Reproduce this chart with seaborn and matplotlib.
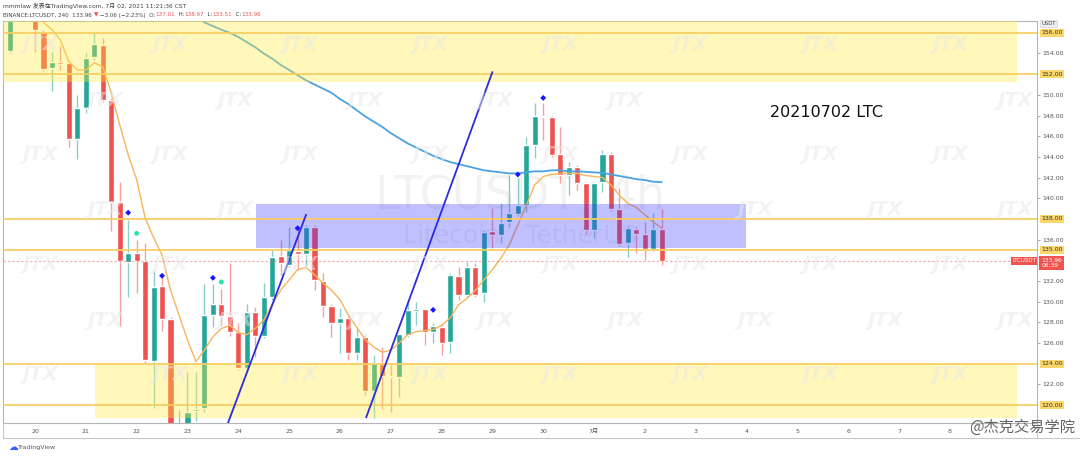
import numpy as np
import pandas as pd
import seaborn as sns
import matplotlib.pyplot as plt
from matplotlib.patches import Rectangle

# LTCUSDT 4h candles, bar 0 = Jun 20 00:00
bar = list(range(-4, 75))
opens = [156.3, 154.2, 158.5, 159.2, 157.9, 156.1, 152.6, 153.2, 153.1, 145.7,
         148.7, 153.7, 154.8, 149.5, 139.6, 133.8, 134.7, 133.9, 124.3, 131.5,
         128.3, 116.0, 117.5, 119.4, 119.7, 128.7, 129.8, 128.6, 127.1, 123.6,
         129.0, 126.7, 130.4, 134.4, 133.5, 134.9, 134.6, 137.2, 132.0, 129.6,
         127.9, 128.4, 125.0, 126.6, 121.4, 124.0, 122.8, 122.7, 126.8, 129.1,
         129.3, 127.1, 127.5, 126.1, 132.5, 130.6, 133.3, 130.8, 136.8, 136.4,
         137.7, 138.5, 139.3, 145.1, 148.0, 147.9, 144.3, 142.2, 143.0, 141.5,
         136.9, 141.6, 144.3, 139.0, 135.7, 137.0, 136.5, 135.1, 137.01]
highs = [156.8, 159.5, 160.0, 159.6, 158.2, 156.3, 154.1, 154.7, 153.3, 150.0,
         154.0, 156.1, 155.5, 149.7, 141.6, 137.9, 136.0, 135.7, 133.0, 132.4,
         128.5, 119.5, 123.2, 123.2, 131.7, 131.7, 131.2, 133.7, 127.9, 129.8,
         129.5, 131.8, 135.0, 136.0, 137.2, 137.3, 137.4, 137.4, 132.8, 129.8,
         129.4, 128.6, 127.5, 126.8, 124.8, 125.6, 123.9, 127.0, 130.2, 130.0,
         129.4, 127.9, 127.7, 132.8, 133.3, 133.8, 133.7, 136.9, 139.1, 139.5,
         142.2, 142.0, 145.9, 149.2, 149.2, 148.0, 146.9, 143.5, 143.2, 141.6,
         141.6, 144.7, 144.5, 141.0, 137.3, 137.2, 137.7, 138.6, 138.97]
lows = [154.1, 154.0, 157.5, 157.6, 154.1, 152.3, 150.4, 152.4, 145.0, 143.8,
        148.2, 153.4, 149.3, 136.8, 127.6, 130.4, 130.8, 124.1, 119.7, 127.2,
        112.0, 113.0, 116.0, 118.5, 119.3, 127.5, 127.6, 126.7, 123.4, 123.4,
        124.6, 126.5, 130.2, 132.6, 133.3, 133.1, 133.4, 131.1, 128.5, 126.6,
        125.0, 124.4, 124.4, 121.0, 118.7, 119.6, 119.3, 120.8, 126.6, 127.7,
        125.8, 126.0, 124.8, 125.0, 130.2, 130.4, 130.4, 130.0, 135.2, 135.7,
        137.2, 138.3, 138.7, 143.9, 145.6, 144.0, 141.5, 140.3, 140.8, 136.5,
        136.2, 140.6, 138.8, 135.4, 134.3, 134.7, 134.0, 134.9, 133.51]
closes = [154.3, 158.5, 159.2, 157.9, 156.3, 152.5, 153.2, 153.0, 145.7, 148.7,
          153.6, 154.9, 149.5, 139.6, 133.9, 134.7, 133.9, 124.4, 131.4, 128.3,
          116.0, 117.5, 119.3, 119.6, 128.7, 129.8, 128.6, 127.1, 123.6, 129.0,
          126.7, 130.4, 134.3, 133.7, 135.0, 134.6, 137.2, 132.1, 129.6, 127.9,
          128.4, 125.0, 126.6, 121.4, 124.1, 122.8, 122.7, 126.9, 129.2, 129.3,
          127.1, 127.6, 126.0, 132.6, 130.6, 133.3, 130.6, 136.7, 136.4, 137.6,
          138.6, 139.3, 145.1, 148.0, 147.9, 144.2, 142.2, 143.0, 141.5, 136.9,
          141.5, 144.3, 139.0, 135.6, 137.1, 136.5, 135.1, 137.0, 133.96]

# short MA (orange) from bar 0, long MA (blue) from bar 19
ma_fast = [157.8, 157.0, 156.3, 155.3, 153.2, 152.4, 152.4, 153.1, 152.7, 150.2,
           147.1, 144.2, 141.8, 138.1, 136.2, 134.5, 131.1, 128.7, 126.3, 124.2,
           125.3, 126.6, 127.4, 127.7, 127.0, 126.8, 127.4, 128.2, 129.7, 131.1,
           132.1, 133.1, 133.3, 132.6, 131.8, 131.1, 130.2, 128.7, 127.5, 126.3,
           125.6, 125.1, 125.3, 126.0, 126.8, 127.1, 127.2, 127.3, 127.7, 128.4,
           129.7, 130.3, 131.1, 132.1, 133.1, 134.2, 135.5, 137.4, 139.3, 141.3,
           142.1, 142.3, 142.4, 142.4, 142.4, 142.2, 142.1, 142.0, 141.3, 140.3,
           139.5, 139.1, 138.4, 137.7, 137.1]
ma_slow = [157.6, 157.0, 156.65, 156.3, 156.0, 155.6, 155.1, 154.6, 154.0, 153.5,
           152.9, 152.4, 151.9, 151.4, 151.0, 150.6, 150.2, 149.6, 149.1, 148.5,
           147.9, 147.4, 146.9, 146.3, 145.8, 145.3, 144.9, 144.5, 144.1, 143.8,
           143.5, 143.3, 143.1, 142.9, 142.7, 142.6, 142.5, 142.4, 142.4, 142.5,
           142.6, 142.6, 142.7, 142.7, 142.6, 142.6, 142.55, 142.5, 142.45, 142.3,
           142.15, 142.0, 141.85, 141.75, 141.6, 141.55]

diamond_bars = [11, 15, 21, 31, 47, 57, 60]
diamond_px = [138.6, 132.5, 132.3, 137.1, 129.2, 142.3, 149.7]
dot_bars = [12, 22]
dot_px = [136.6, 131.9]

day_bars = list(range(0, 109, 6))
day_labels = ['20', '21', '22', '23', '24', '25', '26', '27', '28', '29', '30',
              '7月', '2', '3', '4', '5', '6', '7', '8']
levels = [156, 152, 138, 135, 124, 120]
last_price = 133.96
price_ticks = [122, 126, 128, 130, 132, 136, 140, 142, 144, 146, 148, 150, 154]

# zones: (bar from, bar to, low, high)
yellow_zones = [(-5, 115.9, 151.24, 160.0), (7.1, 115.9, 118.74, 124.06)]
blue_zone = (26.1, 83.9, 135.18, 139.44)
trend_lines = [([22.8, 32.0], [118.3, 138.4]), ([39.1, 54.0], [118.8, 152.2])]

sns.set_style('white')
plt.rcParams['font.family'] = ['DejaVu Sans', 'Noto Sans CJK SC']

W, H = 1080, 457
fig = plt.figure(figsize=(10.8, 4.57), dpi=100)
ax = fig.add_axes([3 / W, 1 - 423 / H, 1034 / W, 402 / H])
ax.set_xlim(-3.78, 118.3)
ax.set_ylim(118.26, 157.14)

df = pd.DataFrame({'bar': bar, 'o': opens, 'h': highs, 'l': lows, 'c': closes})
up = df['c'] >= df['o']
col = np.where(up, '#26a69a', '#ef5350')
ax.vlines(df['bar'], df['l'], df['h'], colors=col, lw=1, alpha=0.55, zorder=2)
ax.bar(df['bar'], (df['c'] - df['o']).abs().clip(lower=0.1),
       bottom=df[['o', 'c']].min(axis=1), width=0.72, color=col, zorder=2.2)

fast = pd.DataFrame({'bar': range(0, 75), 'v': ma_fast})
slow = pd.DataFrame({'bar': range(19, 75), 'v': ma_slow})
sns.lineplot(data=fast, x='bar', y='v', ax=ax, color='#f7b45c', lw=1, zorder=2.5)
sns.lineplot(data=slow, x='bar', y='v', ax=ax, color='#4aa3e0', lw=1.3, zorder=2.5)

for x0, x1, lo, hi in yellow_zones:
    ax.add_patch(Rectangle((x0, lo), x1 - x0, hi - lo, color='#ffeb3b',
                           alpha=0.35, lw=0, zorder=3))
x0, x1, lo, hi = blue_zone
ax.add_patch(Rectangle((x0, lo), x1 - x0, hi - lo, color='#3030ff',
                       alpha=0.3, lw=0, zorder=3))

for lv in levels:
    ax.axhline(lv, color='#f8cd62', lw=1.4, alpha=0.9, zorder=4)
ax.axhline(last_price, color='#ef5350', lw=0.8, ls=(0, (2, 2)), alpha=0.5, zorder=4)

for xs, ys in trend_lines:
    ax.plot(xs, ys, color='#2b2be0', lw=1.3, zorder=5)

sns.scatterplot(x=diamond_bars, y=diamond_px, ax=ax, marker='D', s=9,
                color='#1515ff', edgecolor='none', zorder=6)
sns.scatterplot(x=dot_bars, y=dot_px, ax=ax, marker='o', s=12,
                color='#20e8b0', edgecolor='none', zorder=6)

# watermarks
ax.text(57.3, 140.2, 'LTCUSDT, 4h', fontsize=33, color='#000000', alpha=0.05,
        ha='center', va='center', zorder=1)
ax.text(57.3, 136.4, 'Litecoin / TetherUS', fontsize=18, color='#000000', alpha=0.05,
        ha='center', va='center', zorder=1)
for r, py in enumerate(range(45, 400, 55)):
    for px in range(40 + (r % 2) * 65, 1030, 130):
        if 330 < px < 720 and 165 < py < 265:
            continue  # keep clear of the symbol watermark
        if 730 < px < 920 and 80 < py < 150:
            continue  # and of the date label
        fig.text(px / W, 1 - py / H, 'JTX', fontsize=14, style='italic',
                 weight='bold', color='#e8e8e8', alpha=0.5, ha='center',
                 va='center', zorder=0)

# axes styling
for s in ax.spines.values():
    s.set_color('#b5b5b5')
    s.set_linewidth(0.8)
ax.set_xlabel('')
ax.set_ylabel('')
ax.set_xticks(day_bars)
ax.set_xticklabels(day_labels)
ax.yaxis.tick_right()
ax.set_yticks(price_ticks)
ax.set_yticklabels([f'{t:.2f}' for t in price_ticks])
ax.tick_params(axis='both', labelsize=4.5, labelcolor='#555555', color='#999999',
               length=2, width=0.6, pad=2)

box = dict(boxstyle='square,pad=0.25', fc='#fbd76b', ec='none')
for lv in levels:
    ax.text(1.004, lv, f'{lv:.2f}', transform=ax.get_yaxis_transform(),
            fontsize=4.5, color='#333333', va='center', ha='left', bbox=box,
            zorder=7, clip_on=False)
ax.text(1.004, 156.9, 'USDT', transform=ax.get_yaxis_transform(), fontsize=3.8,
        color='#444444', va='center', ha='left', clip_on=False,
        bbox=dict(boxstyle='square,pad=0.25', fc='#eeeeee', ec='#cccccc', lw=0.4))
ax.text(1.004, last_price - 0.25, '133.96\n06:39', transform=ax.get_yaxis_transform(),
        fontsize=4.3, color='white', va='center', ha='left', linespacing=1.1,
        bbox=dict(boxstyle='square,pad=0.3', fc='#ef5350', ec='none'), clip_on=False,
        zorder=8)
ax.text(0.999, last_price, 'LTCUSDT', transform=ax.get_yaxis_transform(),
        fontsize=4, color='white', va='center', ha='right',
        bbox=dict(boxstyle='square,pad=0.25', fc='#ef5350', ec='none'), zorder=8)

ax.text(93.5, 148.3, '20210702 LTC', fontsize=11.5, color='#111111',
        ha='center', va='center', zorder=7)

# frame lines outside the plot
fig.add_artist(plt.Line2D([3 / W, 1], [1 - 438 / H] * 2, color='#c8c8c8', lw=0.8))
fig.add_artist(plt.Line2D([3 / W] * 2, [1 - 438 / H, 1 - 423 / H], color='#c8c8c8', lw=0.8))
fig.add_artist(plt.Line2D([1037 / W] * 2, [1 - 438 / H, 1 - 423 / H], color='#c8c8c8', lw=0.8))

# header
fig.text(3 / W, 1 - 6 / H, 'mmmlaw 发表在TradingView.com, 7月 02, 2021 11:21:36 CST',
         fontsize=4.3, color='#444444', va='center')
parts = [('BINANCE:LTCUSDT, 240  133.96 ', '#444444'), ('▼', '#ef5350'),
         (' −3.06 (−2.23%)  O:', '#444444'), ('137.01', '#ef5350'),
         ('  H:', '#444444'), ('138.97', '#ef5350'), ('  L:', '#444444'),
         ('133.51', '#ef5350'), ('  C:', '#444444'), ('133.96', '#ef5350')]
renderer = fig.canvas.get_renderer()
px = 3.0
for t, c in parts:
    tx = fig.text(px / W, 1 - 15 / H, t, fontsize=4.1, color=c, va='center')
    px += tx.get_window_extent(renderer).width

fig.text(8 / W, 1 - 447 / H, '☁', fontsize=7, color='#2962ff', va='center')
fig.text(18 / W, 1 - 447 / H, 'TradingView', fontsize=4.5, color='#555555', va='center')
fig.text(1075 / W, 1 - 427 / H, '@杰克交易学院', fontsize=11, color='#666666',
         ha='right', va='center', family=['Noto Sans CJK SC', 'DejaVu Sans'])

fig.savefig('out.png', dpi=100)
